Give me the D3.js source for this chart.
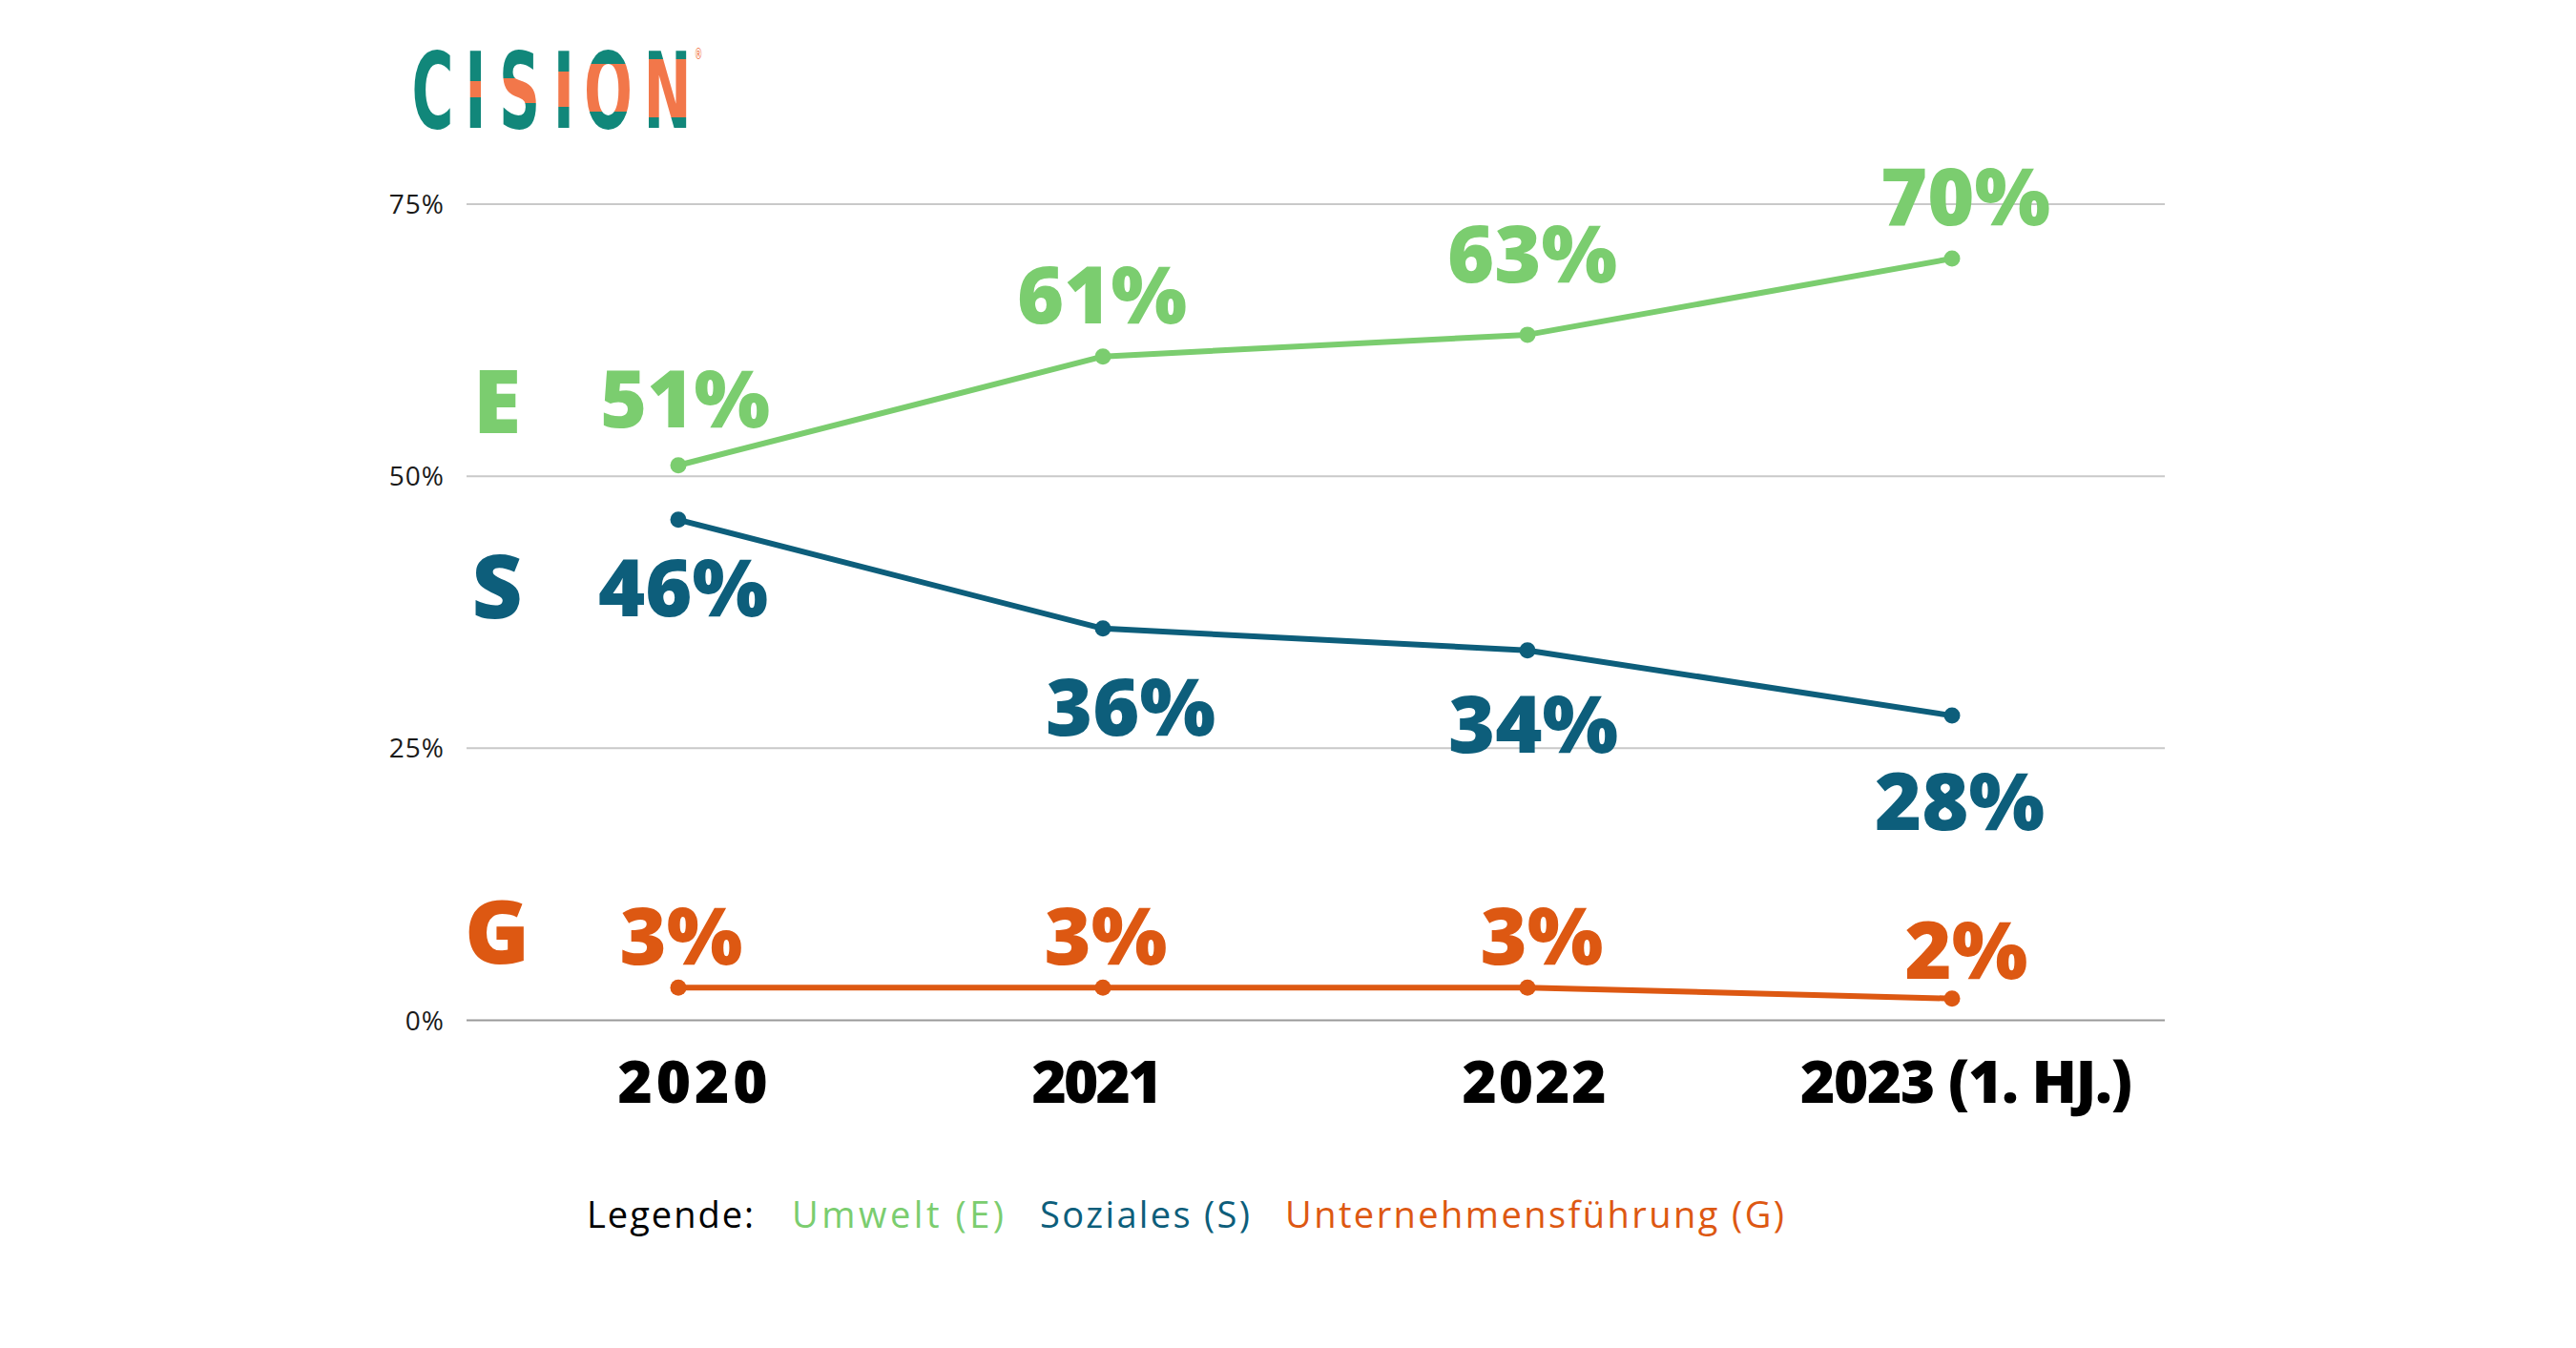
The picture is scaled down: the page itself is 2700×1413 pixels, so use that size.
<!DOCTYPE html>
<html>
<head>
<meta charset="utf-8">
<script src="https://cdn.jsdelivr.net/npm/d3@7"></script>
<style>
  html, body { margin: 0; padding: 0; background: #ffffff; }
  svg { display: block; }
</style>
</head>
<body>
<svg id="chart" width="2700" height="1413"></svg>
<script>
// ---------- data ----------
const years = ["2020", "2021", "2022", "2023 (1. HJ.)"];
const umwelt = [51, 61, 63, 70];          // E
const soziales = [46, 36, 34, 28];        // S
const fuehrung = [3, 3, 3, 2];            // G
const yTicks = [0, 25, 50, 75];
const seriesNames = ["Umwelt (E)", "Soziales (S)", "Unternehmensführung (G)"];
const seriesLetters = ["E", "S", "G"];

// ---------- layout / style ----------
const colors = ["#7bcd6f", "#0d5e7b", "#dd5812"];
const svg = d3.select("#chart");
const W = 2700, H = 1413;
svg.append("rect").attr("width", W).attr("height", H).attr("fill", "#ffffff");

const x = d3.scalePoint().domain(years).range([711, 2046]);
const y = d3.scaleLinear().domain([0, 75]).range([1069.5, 214]);
const gridX0 = 489, gridX1 = 2269;

// gridlines + y tick labels
const grid = svg.append("g");
grid.selectAll("line").data(yTicks).join("line")
  .attr("x1", gridX0).attr("x2", gridX1)
  .attr("y1", d => y(d)).attr("y2", d => y(d))
  .attr("stroke", d => d === 0 ? "#9a9a9a" : "#c9c9c9")
  .attr("stroke-width", 2);
grid.selectAll("text").data(yTicks).join("text")
  .attr("x", 466).attr("y", d => y(d) + 10)
  .attr("text-anchor", "end")
  .attr("font-family", "'Open Sans', sans-serif")
  .attr("font-size", 28)
  .attr("letter-spacing", 1)
  .attr("fill", "#1a1a1a")
  .text(d => d + "%");

// x axis labels
const xNudge = [15, -6, 7, 15];
const xLen = [157, 137, 151, 348];
svg.append("g").selectAll("text").data(years).join("text")
  .attr("x", (d, i) => x(d) + xNudge[i])
  .attr("y", 1156)
  .attr("text-anchor", "middle")
  .attr("font-family", "'Open Sans', sans-serif")
  .attr("font-weight", 800)
  .attr("font-size", 62)
  .attr("fill", "#000000")
  .attr("textLength", (d, i) => xLen[i])
  .attr("lengthAdjust", "spacing")
  .text(d => d);

// series
const allSeries = [umwelt, soziales, fuehrung];
const labelDy = [[-40, -35, -55, -35], [101, 112, 107, 120], [-24, -24, -24, -21]];
const labelDx = [[7, -1, 5, 14], [5, 29, 6, 8], [3, 3, 15, 15]];
const letterDy = [6, 2, -1];

const line = d3.line().x((d, i) => x(years[i])).y(d => y(d));

allSeries.forEach((vals, s) => {
  const g = svg.append("g");
  g.append("path").datum(vals)
    .attr("d", line)
    .attr("fill", "none")
    .attr("stroke", colors[s])
    .attr("stroke-width", 6)
    .attr("stroke-linejoin", "round");
  g.selectAll("circle").data(vals).join("circle")
    .attr("cx", (d, i) => x(years[i]))
    .attr("cy", d => y(d))
    .attr("r", 8.5)
    .attr("fill", colors[s]);
  g.selectAll("text.val").data(vals).join("text")
    .attr("class", "val")
    .attr("x", (d, i) => x(years[i]) + labelDx[s][i])
    .attr("y", (d, i) => y(d) + labelDy[s][i])
    .attr("text-anchor", "middle")
    .attr("font-family", "'Open Sans', sans-serif")
    .attr("font-weight", 800)
    .attr("font-size", 84)
    .attr("fill", colors[s])
    .text(d => d + "%");
  // series letter
  g.append("text")
    .attr("x", 521)
    .attr("y", y(vals[0]) + labelDy[s][0] + letterDy[s])
    .attr("text-anchor", "middle")
    .attr("font-family", "'Open Sans', sans-serif")
    .attr("font-weight", 800)
    .attr("font-size", 92)
    .attr("fill", colors[s])
    .text(seriesLetters[s]);
});

// legend
const legend = svg.append("g")
  .attr("font-family", "'Open Sans', sans-serif")
  .attr("font-weight", 500)
  .attr("font-size", 38);
legend.append("text").attr("x", 615).attr("y", 1287)
  .attr("fill", "#000000")
  .attr("textLength", 175).attr("lengthAdjust", "spacing")
  .text("Legende:");
const legX = [830, 1090, 1347];
const legLen = [222, 220, 523];
legend.selectAll("text.item").data(seriesNames).join("text")
  .attr("class", "item")
  .attr("x", (d, i) => legX[i]).attr("y", 1287)
  .attr("fill", (d, i) => colors[i])
  .attr("textLength", (d, i) => legLen[i]).attr("lengthAdjust", "spacing")
  .text(d => d);

// logo "CISION": one text element, two-colour letters via hard-stop gradients
const logoLetters = ["C", "I", "S", "I", "O", "N"];
const logoCenters = [453.5, 498.5, 544.5, 591, 637.5, 699.5];
const logoBand = [null, [85, 102], [82, 108], [75, 112], [67, 117], [62, 123]];
const teal = "#11877a", orange = "#f2774a";
const sx = 0.54, baseY = 134;
const defs = svg.append("defs");
logoBand.forEach((b, i) => {
  // gradient in the text's local coordinates (baseline at y = 0)
  const gr = defs.append("linearGradient")
    .attr("id", "lg" + i)
    .attr("gradientUnits", "userSpaceOnUse")
    .attr("x1", 0).attr("y1", -200).attr("x2", 0).attr("y2", 0);
  if (!b) {
    gr.append("stop").attr("offset", 0).attr("stop-color", teal);
    gr.append("stop").attr("offset", 1).attr("stop-color", teal);
    return;
  }
  const o1 = (b[0] - baseY + 200) / 200, o2 = (b[1] - baseY + 200) / 200;
  [[0, teal], [o1, teal], [o1, orange], [o2, orange], [o2, teal], [1, teal]].forEach(st => {
    gr.append("stop").attr("offset", st[0]).attr("stop-color", st[1]);
  });
});
const logo = svg.append("text")
  .attr("transform", `translate(0,${baseY}) scale(${sx},1)`)
  .attr("font-family", "'DejaVu Sans', sans-serif")
  .attr("font-weight", 700)
  .attr("font-size", 111);
logoLetters.forEach((d, i) => {
  logo.append("tspan")
    .attr("x", logoCenters[i] / sx)
    .attr("y", 0)
    .attr("text-anchor", "middle")
    .attr("fill", "url(#lg" + i + ")")
    .text(d);
});
logo.append("tspan")
  .attr("x", 732 / sx).attr("y", -72)
  .attr("text-anchor", "middle")
  .attr("font-size", 16)
  .attr("font-weight", 400)
  .attr("fill", orange)
  .text("®");
</script>
</body>
</html>
